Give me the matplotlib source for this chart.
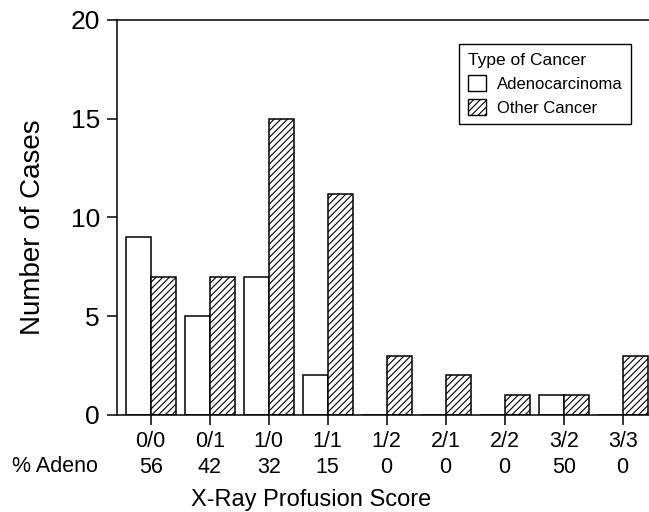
import numpy as np
import matplotlib
matplotlib.use("Agg")
from matplotlib import pyplot as plt
from matplotlib.patches import Patch

plt.rcParams['font.family'] = ['Liberation Sans', 'DejaVu Sans']
plt.rcParams['hatch.linewidth'] = 0.8

############################# Data #####################################################################################

scores = ['0/0', '0/1', '1/0', '1/1', '1/2', '2/1', '2/2', '3/2', '3/3']
pct_adeno = [56, 42, 32, 15, 0, 0, 0, 50, 0]
adeno_cases = [9, 5, 7, 2, 0, 0, 0, 1, 0]
other_cases = [7, 7, 15, 11.2, 3, 2, 1, 1, 3]

############################# Plot #####################################################################################

fig = plt.figure(figsize=(6.49, 5.12), dpi=100)
ax = fig.add_axes([0.1798, 0.1895, 0.8202, 0.7715])

index = np.arange(len(scores))
width = 0.424
ax.bar(index - width / 2, adeno_cases, width, color='white', edgecolor='black', linewidth=1.1,
       label='Adenocarcinoma')
ax.bar(index + width / 2, other_cases, width, color='white', edgecolor='black', linewidth=1.1,
       hatch='/////', label='Other Cancer')

ax.set_xlim(-0.576, 8.446)
ax.set_ylim(0, 20)
ax.set_yticks([0, 5, 10, 15, 20])
ax.set_xticks(index, labels=[f'{s}\n{p}' for s, p in zip(scores, pct_adeno)], linespacing=1.3)
ax.tick_params(axis='both', direction='out', length=7.5, width=1.1, color='black')
ax.tick_params(axis='y', pad=4.5, labelsize=19)
ax.tick_params(axis='x', pad=4, labelsize=15.5)
ax.spines['right'].set_visible(False)
for side in ['left', 'top', 'bottom']:
    ax.spines[side].set_linewidth(1.1)

fig.text(0.0185, 1 - 471.5 / 512, '% Adeno', fontsize=15.5, ha='left', va='baseline')
fig.text(311 / 649, 1 - 506 / 512, 'X-Ray Profusion Score', fontsize=17, ha='center', va='baseline')
fig.text(33.5 / 649, 1 - 227.5 / 512, 'Number of Cases', fontsize=20, rotation=90, ha='center', va='center')

handles = [Patch(facecolor='white', edgecolor='black', linewidth=1.0, label='Adenocarcinoma'),
           Patch(facecolor='white', edgecolor='black', linewidth=1.0, hatch='/////', label='Other Cancer')]
leg = ax.legend(handles=handles, title='Type of Cancer', loc='upper right',
                bbox_to_anchor=(631 / 649, 1 - 44.3 / 512), bbox_transform=fig.transFigure,
                borderaxespad=0, fontsize=12, title_fontsize=12.5, alignment='left',
                fancybox=False, edgecolor='black', framealpha=1, handlelength=1.1, handleheight=1.1,
                handletextpad=0.65, borderpad=0.5, labelspacing=0.45)
leg.get_frame().set_linewidth(1.0)

fig.savefig('out.png', dpi=100)
